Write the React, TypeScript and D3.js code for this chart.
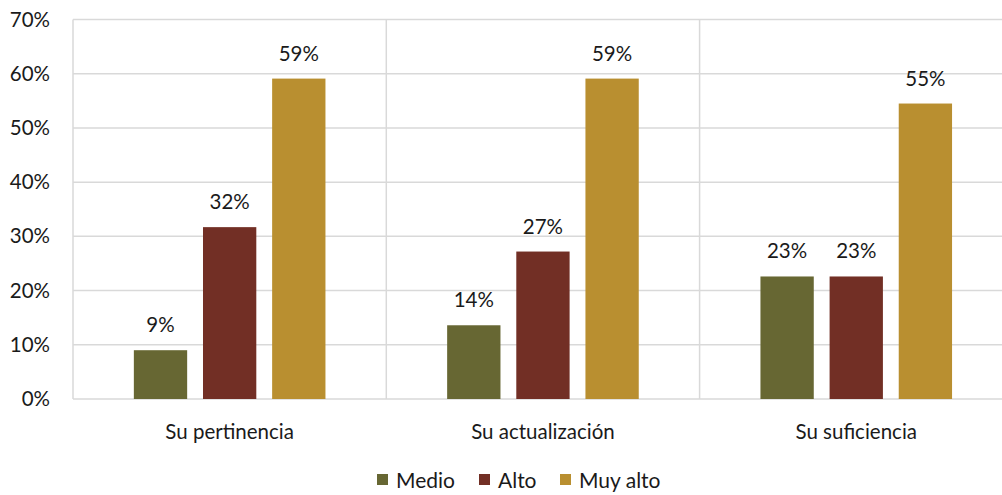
import React from "react";
import * as d3 from "d3";

const categories = ["Su pertinencia", "Su actualización", "Su suficiencia"];
const seriesNames = ["Medio", "Alto", "Muy alto"];
const medio = [9.0, 13.6, 22.6];
const alto = [31.7, 27.2, 22.6];
const muyAlto = [59.1, 59.1, 54.5];
const labels = [["9%", "14%", "23%"], ["32%", "27%", "23%"], ["59%", "59%", "55%"]];
const yTicks = [0, 10, 20, 30, 40, 50, 60, 70];
const colors = ["#676733", "#722F25", "#B98F30"];

export default function App() {
  const W = 1002, H = 495;
  const left = 73, catW = 313.3, right = left + catW * 3;
  const top = 19.5, bottom = 399;
  const font = "Lato, 'Open Sans', sans-serif";
  const fs = 20.5;
  const x0 = d3.scaleBand().domain(categories).range([left, right]).paddingInner(0).paddingOuter(0);
  const x1 = d3.scaleBand().domain(seriesNames).range([0, catW]).paddingInner(0.229).paddingOuter(0.88);
  const y = d3.scaleLinear().domain([0, 70]).range([bottom, top]);
  const series = [medio, alto, muyAlto];
  const legendX = [377, 479, 560];
  return (
    <svg width={W} height={H} style={{ position: "absolute", left: 0, top: 0 }} fontFamily={font}>
      <rect x={0} y={0} width={W} height={H} fill="#fff" />
      {yTicks.map((t) => (
        <g key={t}>
          <line x1={left} x2={right} y1={y(t)} y2={y(t)} stroke="#d9d9d9" strokeWidth={1.5} />
          <text x={50} y={y(t) + 7} textAnchor="end" fontSize={fs} fill="#1a1a1a">{t}%</text>
        </g>
      ))}
      {[0, 1, 2, 3].map((i) => (
        <line key={i} x1={left + i * catW} x2={left + i * catW} y1={top} y2={bottom} stroke="#d9d9d9" strokeWidth={1.5} />
      ))}
      {categories.map((c, ci) => (
        <g key={c}>
          {series.map((s, si) => {
            const bx = (x0(c) as number) + (x1(seriesNames[si]) as number);
            const bw = x1.bandwidth();
            return (
              <g key={si}>
                <rect x={bx} y={y(s[ci])} width={bw} height={bottom - y(s[ci])} fill={colors[si]} />
                <text x={bx + bw / 2} y={y(s[ci]) - 18} textAnchor="middle" fontSize={fs} fill="#1a1a1a">{labels[si][ci]}</text>
              </g>
            );
          })}
          <text x={(x0(c) as number) + catW / 2} y={439} textAnchor="middle" fontSize={fs} fill="#1a1a1a">{c}</text>
        </g>
      ))}
      {seriesNames.map((n, i) => (
        <g key={n}>
          <rect x={legendX[i]} y={474} width={11} height={11} fill={colors[i]} />
          <text x={legendX[i] + 19} y={488} fontSize={21} fill="#1a1a1a">{n}</text>
        </g>
      ))}
    </svg>
  );
}
